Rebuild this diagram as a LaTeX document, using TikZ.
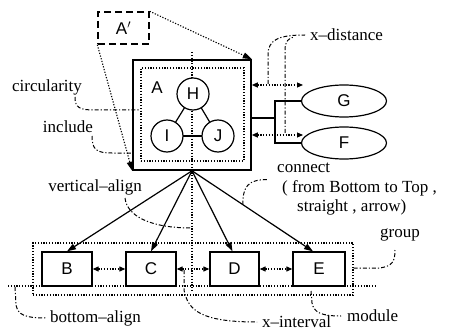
\documentclass[tikz,border=0pt]{standalone}
\usepackage{fontspec}
\setmainfont{Liberation Serif}
\newfontfamily\lsans{Liberation Sans}
\usetikzlibrary{arrows.meta,shapes.geometric}
\begin{document}
\begin{tikzpicture}[x=1pt,y=-1pt,
  solidln/.style={line width=1.2pt},
  modbox/.style={draw,line width=1.3pt,inner sep=0pt,font=\lsans\fontsize{17}{17}\selectfont},
  circ/.style={circle,draw,fill=white,line width=1.2pt,minimum size=32pt,inner sep=0pt,font=\lsans\fontsize{17}{17}\selectfont},
  ell/.style={ellipse,draw,line width=1.2pt,minimum width=85pt,minimum height=32pt,inner sep=0pt,font=\lsans\fontsize{17}{17}\selectfont},
  dotln/.style={line width=1.1pt,dash pattern=on 1.2pt off 1.6pt},
  leader/.style={line width=1pt,dash pattern=on 4pt off 2pt on 1.2pt off 2pt},
  lbl/.style={inner sep=0pt,font=\fontsize{17}{19}\selectfont},
  bigtip/.style={-{Triangle[length=9pt,width=6pt]}},
  dbltip/.style={{Triangle[length=6pt,width=5pt]}-{Triangle[length=6pt,width=5pt]}},
]
\useasboundingbox (0,0) rectangle (454,331);

% alignment lines (behind)
\coordinate (vt) at (192,52);
\coordinate (vb) at (192,292);
\draw[dotln] (vt) -- (vb);
\coordinate (bl) at (8,286);
\coordinate (br) at (375,286);
\draw[dotln] (bl) -- (br);

% main module A
\node[draw,line width=1.6pt,minimum width=118pt,minimum height=110pt,inner sep=0pt] (A) at (192,115) {};
\node[draw,dotln,minimum width=103pt,minimum height=93pt,inner sep=0pt] (Ain) at (192.5,114.5) {};
\node[inner sep=0pt,font=\lsans\fontsize{17}{17}\selectfont] (Alab) at (157,88) {A};
\draw[solidln] (193,94) -- (167,136);
\draw[solidln] (193,94) -- (218,136);
\draw[solidln] (167,136) -- (218,136);
\node[circ] (H) at (193,94) {H};
\node[circ] (I) at (167,136) {I};
\node[circ] (J) at (218,136) {J};

% A' box
\node[draw,line width=1.4pt,dash pattern=on 7pt off 4pt,minimum width=51pt,minimum height=32pt,inner sep=0pt,font=\lsans\fontsize{17}{17}\selectfont] (Ap) at (123.5,28) {A$'$};
\draw[dotln,bigtip] (Ap.north east) -- (A.north east);
\draw[dotln,bigtip] (Ap.south west) -- (A.south west);

% ellipses
\node[ell] (G) at (344,101) {G};
\node[ell] (F) at (344,143) {F};
\coordinate (t) at (275,118);
\draw[solidln] (A.east |- t) -- (t);
\draw[solidln] (G.west) -- (G.west -| t) -- (F.west -| t) -- (F.west);

% x-distance arrows
\coordinate (xd1) at (303,85);
\coordinate (xd2) at (303,135);
\draw[dotln,dbltip] (A.east |- xd1) -- (xd1);
\draw[dotln,dbltip] (A.east |- xd2) -- (xd2);

% bottom modules
\node[modbox,minimum width=50pt,minimum height=34pt] (B) at (67,269) {B};
\node[modbox,minimum width=50pt,minimum height=34pt] (C) at (151,269) {C};
\node[modbox,minimum width=49pt,minimum height=34pt] (D) at (234.5,269) {D};
\node[modbox,minimum width=52pt,minimum height=34pt] (E) at (319,269) {E};
\node[draw,dotln,minimum width=320pt,minimum height=52pt,inner sep=0pt] (grp) at (193,269) {};

\draw[dotln,dbltip] (B) -- (C);
\draw[dotln,dbltip] (C) -- (D);
\draw[dotln,dbltip] (D) -- (E);

% connections
\draw[solidln,bigtip] (A.south) -- (B.north);
\draw[solidln,bigtip] (A.south) -- (C.north);
\draw[solidln,bigtip] (A.south) -- ([xshift=-2pt]D.north);
\draw[solidln,bigtip] (A.south) -- ([xshift=-6pt]E.north);
\path (A.south) -- ([xshift=-6pt]E.north) coordinate[pos=0.42] (cp);

% labels
\node[lbl] (circ) at (47,87) {circularity};
\node[lbl] (incl) at (68,127) {include};
\node[lbl] (valign) at (95,187) {vertical--align};
\node[lbl,anchor=west] (xdist) at (310,35) {x--distance};
\node[lbl,anchor=west] (conn1) at (277,168) {connect};
\node[lbl,anchor=west] (conn2) at (282,188) {( from Bottom to Top ,};
\node[lbl,anchor=west] (conn3) at (297,207) {straight , arrow)};
\node[lbl] (grplab) at (400,235) {group};
\node[lbl,anchor=west] (balign) at (50,318) {bottom--align};
\node[lbl,anchor=west] (xint) at (262,322) {x--interval};
\node[lbl,anchor=west] (modl) at (347,316) {module};

% leaders
\draw[leader] (75,97) .. controls (75,108) and (80,110) .. (95,110) -- (Ain.west |- 0,110);
\draw[leader] (92,136) .. controls (92,150) and (97,153) .. (112,153) -- (A.west |- 0,153);
\draw[leader] (125,198) .. controls (127,216) and (150,228) .. (192,228);
\draw[leader] (cp) .. controls ([yshift=18pt]cp) and ([xshift=5pt,yshift=25pt]cp) .. ([xshift=24pt,yshift=25pt]cp);
\draw[leader] (268,84) -- (268,55) .. controls (268,40) and (278,35) .. (305,35);
\draw[leader] (285,133) -- (285,50) .. controls (285,41) and (289,38) .. (294,37);
\draw[leader] (grp.east |- 0,268) -- (380,268) .. controls (392,266) and (395,262) .. (395,250);
\draw[leader] (311,291) -- (312,303) .. controls (314,312) and (320,316) .. (341,316);
\draw[leader] (184,270) -- (184,290) .. controls (188,310) and (200,322) .. (257,322);
\draw[leader] (15,287) -- (16,305) .. controls (18,315) and (25,318) .. (46,318);
\end{tikzpicture}
\end{document}
